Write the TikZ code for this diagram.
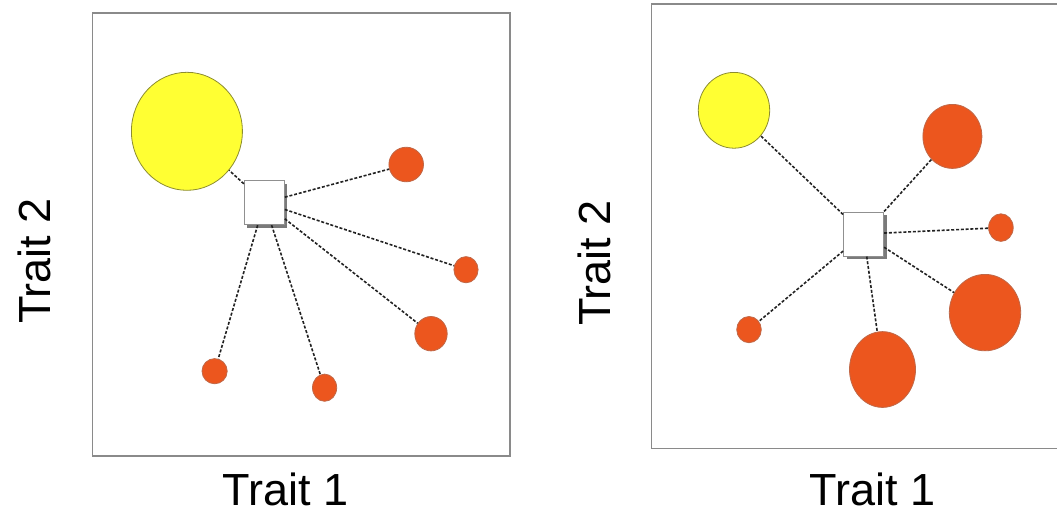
\documentclass[tikz,border=0pt]{standalone}
\usepackage{fontspec}
\setmainfont{Liberation Sans}
\usetikzlibrary{shapes.geometric,shadows}
\definecolor{framegray}{HTML}{8A8A8A}
\definecolor{yfill}{HTML}{FFFF33}
\definecolor{ydraw}{HTML}{8C8C30}
\definecolor{ofill}{HTML}{EC561E}
\definecolor{odraw}{HTML}{C06848}
\definecolor{sqdraw}{HTML}{909090}
\definecolor{shadowgray}{HTML}{7A7A7A}
\definecolor{linkcol}{HTML}{222222}
\tikzset{
  panel/.style={draw=framegray, line width=1.4pt},
  blob/.style={ellipse, inner sep=0pt, line width=0.8pt},
  yblob/.style={blob, fill=yfill, draw=ydraw},
  oblob/.style={blob, fill=ofill, draw=odraw},
  meanbox/.style={rectangle, inner sep=0pt, fill=white, draw=sqdraw, line width=1pt,
    minimum width=40pt, minimum height=44pt,
    drop shadow={shadow xshift=3pt, shadow yshift=-3pt, fill=shadowgray, opacity=1}},
  link/.style={draw=linkcol, line width=1.6pt, dash pattern=on 3pt off 1.8pt},
  axislabel/.style={font=\fontsize{45}{50}\selectfont, inner sep=0pt, anchor=base, text depth=0pt}
}
\begin{document}
\begin{tikzpicture}[x=1pt,y=-1pt]
\useasboundingbox (0,0) rectangle (1057,515);
% frames
\draw[panel] (92.7,13) rectangle (510,456);
\draw[panel] (651.7,4) rectangle (1062,448.3);
% left panel
\node[yblob, minimum width=111pt, minimum height=118pt] (y1) at (186.9,131.3) {};
\node[oblob, minimum width=34.6pt, minimum height=34.6pt] (a1) at (406.2,164.5) {};
\node[oblob, minimum width=24.2pt, minimum height=26.2pt] (b1) at (466,269.7) {};
\node[oblob, minimum width=32.4pt, minimum height=34.4pt] (c1) at (431,333.7) {};
\node[oblob, minimum width=25.2pt, minimum height=25.2pt] (d1) at (214.6,371.2) {};
\node[oblob, minimum width=24.2pt, minimum height=27.2pt] (e1) at (324.6,387.7) {};
\node[meanbox] (s1) at (264.3,202.7) {};
\foreach \t in {y1,a1,b1,c1,d1,e1} \draw[link] (s1) -- (\t);
% right panel
\node[yblob, minimum width=71.4pt, minimum height=75.8pt] (y2) at (734,110.3) {};
\node[oblob, minimum width=59pt, minimum height=64pt] (a2) at (952.4,136.4) {};
\node[oblob, minimum width=24.6pt, minimum height=27.6pt] (b2) at (1000.9,227.6) {};
\node[oblob, minimum width=71.4pt, minimum height=76.4pt] (c2) at (985,312.6) {};
\node[oblob, minimum width=66pt, minimum height=75.8pt] (d2) at (882.5,369.5) {};
\node[oblob, minimum width=24.6pt, minimum height=26.2pt] (e2) at (749,329.6) {};
\node[meanbox] (s2) at (863.6,234) {};
\foreach \t in {y2,a2,b2,c2,d2,e2} \draw[link] (s2) -- (\t);
% labels
\node[axislabel] (x1) at (285.5,505) {Trait 1};
\node[axislabel] (x2) at (872.5,505) {Trait 1};
\node[axislabel, rotate=90] (t1) at (50,261) {Trait 2};
\node[axislabel, rotate=90] (t2) at (610,263) {Trait 2};
\end{tikzpicture}
\end{document}
